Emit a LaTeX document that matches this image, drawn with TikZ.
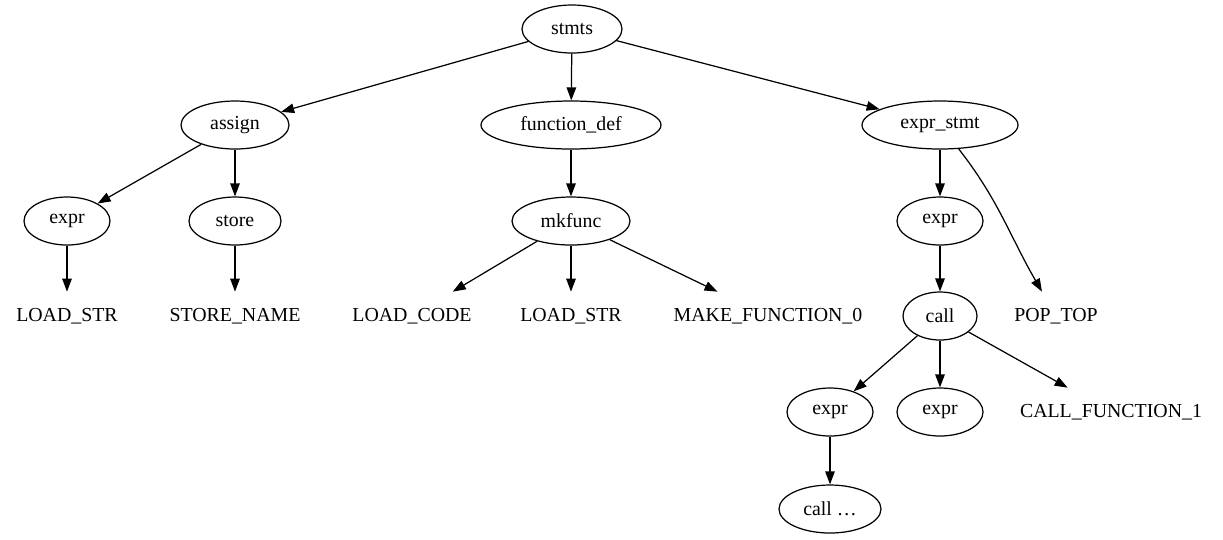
\documentclass[tikz,border=0pt]{standalone}
\usepackage{fontspec}
\setmainfont{Liberation Serif}
\usepackage{xcolor}
\definecolor{cMain}{HTML}{000000}
\usepackage{tikz}
\usetikzlibrary{arrows.meta,shapes.geometric}
\tikzset{
  node-rule/.style={draw=cMain,line width=0.7pt,ellipse,inner sep=0pt,
    minimum height=0.96cm,minimum width={#1*0.02cm},align=center},
  node-rule/.default=86,
  node-token/.style={inner sep=0pt,minimum height=0.96cm,align=center},
  arrow/.style={-{Triangle[length=0.26cm,width=0.19cm]},line width=0.7pt,draw=cMain},
}
\begin{document}
\begin{tikzpicture}[x=0.02cm,y=-0.02cm,every node/.append style={font=\fontsize{11.3}{13}\selectfont}]
  \useasboundingbox (0,0) rectangle (1223,539);
  % rang 0 / 1
  \node[node-rule=100] (stmts) at (572,29) {stmts};
  \node[node-rule=108] (assign) at (235,125) {assign};
  \node[node-rule=180] (fdef) at (571,125) {function\_def};
  \node[node-rule=156] (estmt) at (940,125) {expr\_stmt};
  % rang 2
  \node[node-rule] (expr-a) at (67,221) {expr};
  \node[node-rule=92] (store) at (235,221) {store};
  \node[node-rule=118] (mkfunc) at (571,221) {mkfunc};
  \node[node-rule] (expr-b) at (940,221) {expr};
  % rang 3
  \node[node-token] (ldstr-a) at (67,316) {LOAD\_STR};
  \node[node-token] (stname) at (235,316) {STORE\_NAME};
  \node[node-token] (ldcode) at (412,316) {LOAD\_CODE};
  \node[node-token] (ldstr-b) at (571,316) {LOAD\_STR};
  \node[node-token] (mkfn) at (768,316) {MAKE\_FUNCTION\_0};
  \node[node-rule=74] (call) at (940,316) {call};
  \node[node-token] (poptop) at (1056,316) {POP\_TOP};
  % rang 4 / 5
  \node[node-rule] (expr-c) at (830,412) {expr};
  \node[node-rule] (expr-d) at (940,412) {expr};
  \node[node-token] (callfn) at (1111,412) {CALL\_FUNCTION\_1};
  \node[node-rule=102] (call-x) at (830,509) {call \dots};

  \draw[arrow] (stmts) -- (assign);
  \draw[arrow] (stmts) -- (fdef);
  \draw[arrow] (stmts) -- (estmt);
  \draw[arrow] (assign) -- (expr-a);
  \draw[arrow] (assign) -- (store);
  \draw[arrow] (fdef) -- (mkfunc);
  \draw[arrow] (estmt) -- (expr-b);
  \draw[arrow] (estmt) to[out=-52,in=120] (poptop);
  \draw[arrow] (expr-a) -- (ldstr-a);
  \draw[arrow] (store) -- (stname);
  \draw[arrow] (mkfunc) -- (ldcode);
  \draw[arrow] (mkfunc) -- (ldstr-b);
  \draw[arrow] (mkfunc) -- (mkfn);
  \draw[arrow] (expr-b) -- (call);
  \draw[arrow] (call) -- (expr-c);
  \draw[arrow] (call) -- (expr-d);
  \draw[arrow] (call) -- (callfn);
  \draw[arrow] (expr-c) -- (call-x);
\end{tikzpicture}
\end{document}
